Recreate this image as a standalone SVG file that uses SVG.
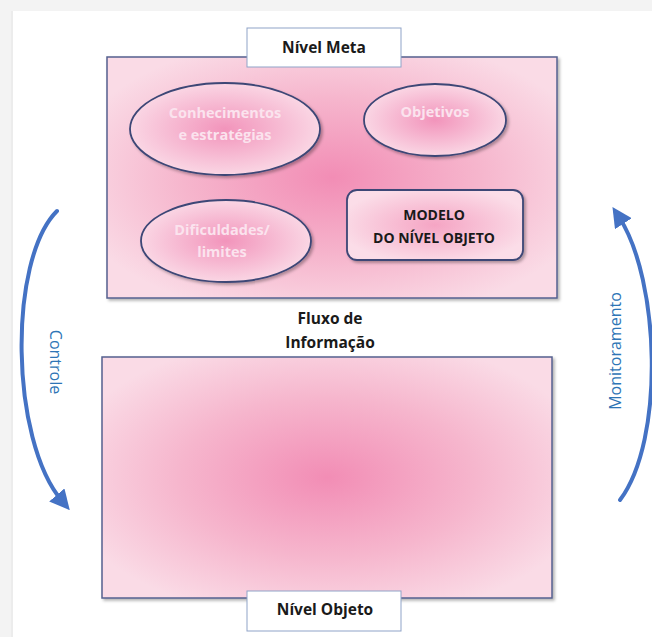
<svg xmlns="http://www.w3.org/2000/svg" width="652" height="637" viewBox="0 0 652 637">
<style>
.big{stroke:#55608f;stroke-width:1.5}
.ell{stroke:#3c4676;stroke-width:1.8}
.lbl{fill:#ffffff;stroke:#8fa3c8;stroke-width:1}
.t{font-family:"Open Sans","Liberation Sans",sans-serif;font-weight:bold;text-anchor:middle}
.dark{fill:#1a1a1a;font-size:15.5px}
.mod{font-size:14px}
.light{fill:#fbe3ee;font-size:14.5px}
.blue{fill:#2e75b6;font-family:"Open Sans","Liberation Sans",sans-serif;font-size:16px;text-anchor:middle}
.arr{fill:none;stroke:#4472c4;stroke-width:4;stroke-linecap:round}
</style>
<defs>
<radialGradient id="gBig" cx="50%" cy="50%" r="60%">
<stop offset="0" stop-color="#f28db5"/>
<stop offset="0.55" stop-color="#f6b6cd"/>
<stop offset="1" stop-color="#fadbe6"/>
</radialGradient>
<radialGradient id="gEll" cx="50%" cy="50%" r="50%">
<stop offset="0" stop-color="#f294bb"/>
<stop offset="1" stop-color="#fad6e4"/>
</radialGradient>
<radialGradient id="gBox" cx="50%" cy="50%" r="55%">
<stop offset="0" stop-color="#f5a5c4"/>
<stop offset="1" stop-color="#fbdde8"/>
</radialGradient>
<filter id="sh" x="-5%" y="-5%" width="112%" height="115%">
<feDropShadow dx="2" dy="2" stdDeviation="1.5" flood-color="#000" flood-opacity="0.3"/>
</filter>
<marker id="ah" viewBox="0 0 10 10" refX="4" refY="5" markerWidth="5" markerHeight="5" orient="auto" markerUnits="strokeWidth">
<path d="M0,0 L10,5 L0,10 z" fill="#4472c4"/>
</marker>
</defs>
<rect width="652" height="637" fill="#ffffff"/>
<rect x="0" y="0" width="652" height="11" fill="#f3f3f3"/>
<rect x="0" y="0" width="13" height="637" fill="#f3f3f3"/>
<rect x="11" y="11" width="2" height="626" fill="#ececec"/>

<g id="nivel-meta">
<rect class="big" x="107" y="57" width="450" height="241" fill="url(#gBig)" filter="url(#sh)"/>
<rect class="lbl" x="247" y="28" width="154" height="39"/>
<text class="t dark" x="324" y="53">Nível Meta</text>
</g>
<g id="conhecimentos">
<ellipse class="ell" cx="225" cy="129" rx="95" ry="46" fill="url(#gEll)" filter="url(#sh)"/>
<text class="t light" x="225" y="118">Conhecimentos</text>
<text class="t light" x="225" y="140">e estratégias</text>
</g>
<g id="objetivos">
<ellipse class="ell" cx="435" cy="120" rx="71" ry="36" fill="url(#gEll)" filter="url(#sh)"/>
<text class="t light" x="435" y="117">Objetivos</text>
</g>
<g id="dificuldades">
<ellipse class="ell" cx="226" cy="241" rx="85" ry="41" fill="url(#gEll)" filter="url(#sh)"/>
<text class="t light" x="222" y="235">Dificuldades/</text>
<text class="t light" x="222" y="257">limites</text>
</g>
<g id="modelo">
<rect class="ell" x="347" y="190" width="176" height="70" rx="10" fill="url(#gBox)" filter="url(#sh)"/>
<text class="t dark mod" x="434" y="220">MODELO</text>
<text class="t dark mod" x="434" y="243">DO NÍVEL OBJETO</text>
</g>
<g id="fluxo">
<text class="t dark" x="330" y="324">Fluxo de</text>
<text class="t dark" x="330" y="348">Informação</text>
</g>
<g id="nivel-objeto">
<rect class="big" x="102" y="357" width="450" height="241" fill="url(#gBig)" filter="url(#sh)"/>
<rect class="lbl" x="247" y="591" width="154" height="40"/>
<text class="t dark" x="325" y="615">Nível Objeto</text>
</g>
<g id="connectors">
<path class="arr" d="M57,211 C8,260 10,440 62,501" marker-end="url(#ah)"/>
<text class="blue" transform="translate(50,362) rotate(90)">Controle</text>
<path class="arr" d="M620,500 C665,440 660,280 619,217" marker-end="url(#ah)"/>
<text class="blue" transform="translate(621,351) rotate(-90)">Monitoramento</text>
</g>
</svg>
